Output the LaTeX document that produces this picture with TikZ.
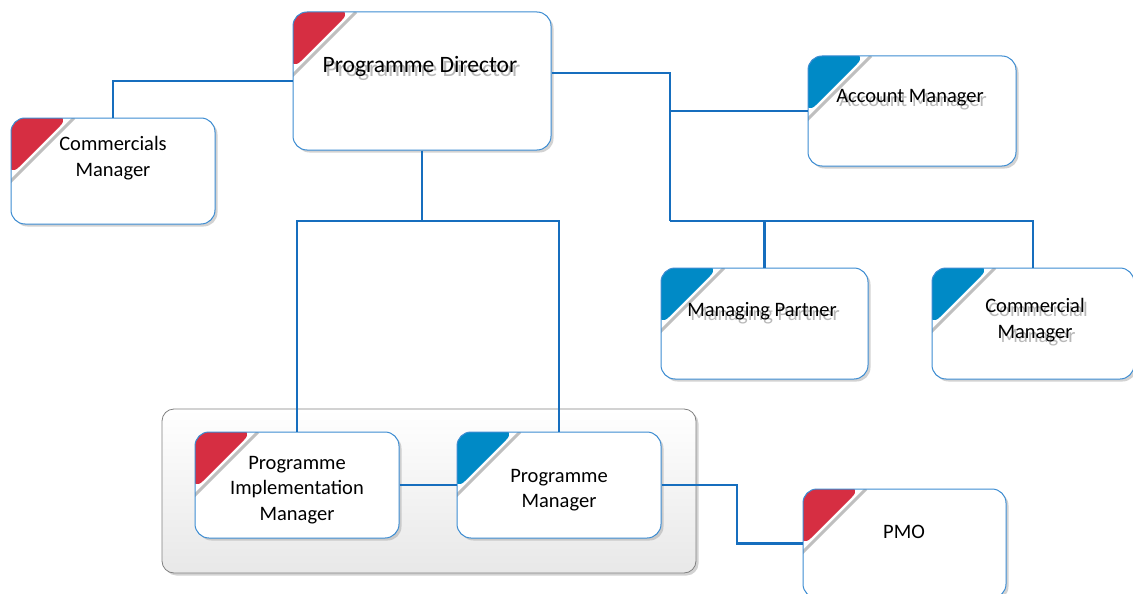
\documentclass[tikz,border=0pt]{standalone}
\usepackage{fontspec}
\setmainfont{Carlito}
\usetikzlibrary{shadows}
\definecolor{lineblue}{RGB}{22,110,190}
\definecolor{boxblue}{RGB}{60,140,210}
\definecolor{cornerred}{RGB}{214,46,66}
\definecolor{cornerblue}{RGB}{0,138,198}
\newcommand\ghosted[1]{\makebox[0pt][l]{\hspace{3pt}\raisebox{-4pt}[0pt][0pt]{\color{black!28}#1}}#1}
\tikzset{
  orgbox/.style={draw=boxblue, line width=1pt, rounded corners=14pt, fill=white, inner sep=0pt,
    drop shadow={shadow xshift=2.5pt, shadow yshift=-2.5pt, fill=black!35, opacity=0.5}},
  corner/.style={path picture={
      \draw[black!25, line width=3pt] ([xshift=63pt]path picture bounding box.north west) -- ++(-65pt,-65pt);
      \fill[#1] ([xshift=-2pt,yshift=2pt]path picture bounding box.north west) -- ++(61pt,0pt) -- ++(-61pt,-61pt) -- cycle;
    }},
  groupbox/.style={draw=black!50, line width=0.8pt, rounded corners=12pt, top color=white, bottom color=black!9,
    drop shadow={shadow xshift=2.5pt, shadow yshift=-2.5pt, fill=black!35, opacity=0.5}},
  lbl/.style={align=center, font=\fontsize{20.5}{25.5}\selectfont, text=black, inner sep=0pt},
  biglbl/.style={lbl, font=\fontsize{23.5}{28}\selectfont},
  conn/.style={draw=lineblue, line width=2.5pt}
}
\begin{document}
\begin{tikzpicture}[x=1pt, y=-1pt]
\useasboundingbox (0,0) rectangle (1133,594);
% group
\node[groupbox, minimum width=534pt, minimum height=164pt] (grp) at (429,491) {};
% boxes
\node[orgbox, corner=cornerred,  minimum width=258pt, minimum height=138pt] (pd)  at (422,81) {};
\node[orgbox, corner=cornerred,  minimum width=204pt, minimum height=106pt] (cm)  at (113,171) {};
\node[orgbox, corner=cornerblue, minimum width=208pt, minimum height=110pt] (am)  at (912,111) {};
\node[orgbox, corner=cornerblue, minimum width=207pt, minimum height=111pt] (mp)  at (764.5,323.5) {};
\node[orgbox, corner=cornerblue, minimum width=202pt, minimum height=111pt] (com) at (1033,323.5) {};
\node[orgbox, corner=cornerred,  minimum width=204pt, minimum height=106pt] (pim) at (297,485) {};
\node[orgbox, corner=cornerblue, minimum width=204pt, minimum height=106pt] (pm)  at (559,485) {};
\node[orgbox, corner=cornerred,  minimum width=203pt, minimum height=109pt] (pmo) at (904.5,543.5) {};
% texts
\node[biglbl] (pdT)  at (420,66) {\ghosted{Programme Director}};
\node[lbl]    (cmT)  at (113,158) {Commercials\\Manager};
\node[lbl]    (amT)  at (910,98) {\ghosted{Account Manager}};
\node[lbl]    (mpT)  at (762,311) {\ghosted{Managing Partner}};
\node[lbl]    (comT) at (1035,320) {\ghosted{Commercial}\\\ghosted{Manager}};
\node[lbl]    (pimT) at (297,490) {Programme\\Implementation\\Manager};
\node[lbl]    (pmT)  at (559,490) {Programme\\Manager};
\node[lbl]    (pmoT) at (904,532) {PMO};
% junction coordinates
\coordinate (rb) at (670,221);
\coordinate (lb) at (421,221);
\coordinate (pj) at (737,500);
% connectors
\draw[conn] (pd.west) -| (cm.north);
\draw[conn] ([yshift=8pt]pd.east) -| (rb);
\draw[conn] (am.west) -- (am.west -| rb);
\draw[conn] (rb) -| (com.north);
\draw[conn] (rb -| mp.north) -- (mp.north);
\draw[conn] (pd.south) -- (pd.south |- lb);
\draw[conn] (pim.north) -- (pim.north |- lb) -- (pm.north |- lb) -- (pm.north);
\draw[conn] (pim.east) -- (pm.west);
\draw[conn] (pm.east) -- (pm.east -| pj) -- (pj |- pmo.west) -- (pmo.west);
\end{tikzpicture}
\end{document}
